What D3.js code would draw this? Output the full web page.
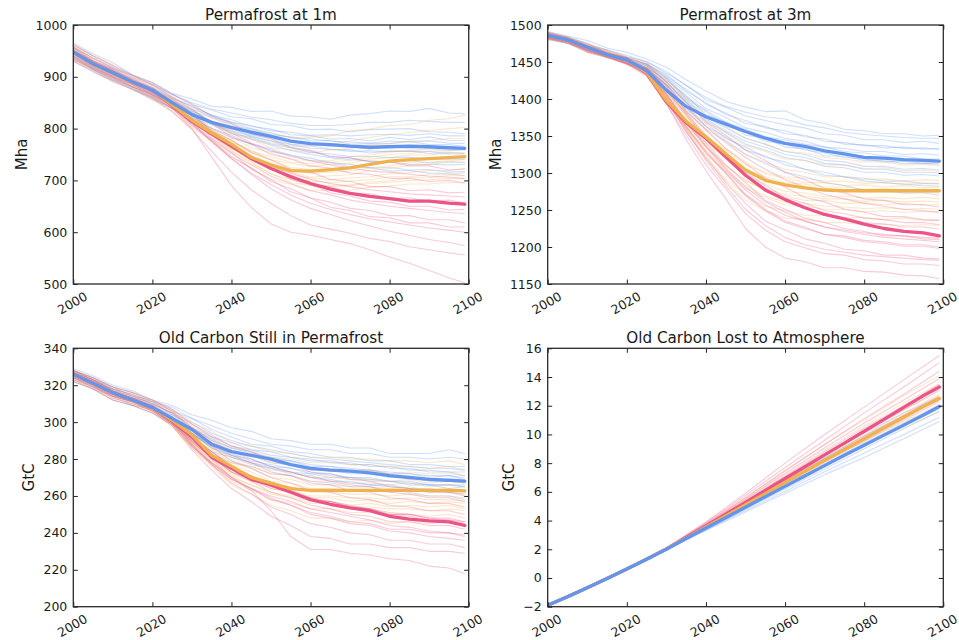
<!DOCTYPE html>
<html>
<head>
<meta charset="utf-8">
<script src="https://cdn.jsdelivr.net/npm/d3@7"></script>
<style>
  body { margin: 0; background: #fff; }
  svg { display: block; font-family: "DejaVu Sans", sans-serif; }
</style>
</head>
<body>
<svg id="chart" width="959" height="640"></svg>
<script>
// ---- time axes ----
const years5 = [2000,2005,2010,2015,2020,2025,2030,2035,2040,2045,2050,2055,2060,2065,2070,2075,2080,2085,2090,2095,2099];
const years10 = [2000,2010,2020,2030,2040,2050,2060,2070,2080,2090,2099];
const xTicks = [2000,2020,2040,2060,2080,2100];

// ---- tick labels ----
const yTicks1m = [500,600,700,800,900,1000];
const yTicks3m = [1150,1200,1250,1300,1350,1400,1450,1500];
const yTicksStill = [200,220,240,260,280,300,320,340];
const yTicksLost = [-2,0,2,4,6,8,10,12,14,16];

// ---- Permafrost at 1m (Mha) ----
const pf1Blue   = [948,925,908,890,874,850,827,812,802,793,785,776,771,769,766,764,765,766,765,763,762];
const pf1Orange = [948,925,908,890,874,846,816,792,770,745,730,719,718,721,724,731,737,740,742,744,746];
const pf1Pink   = [948,925,908,890,874,845,814,790,766,742,723,707,694,683,675,669,665,660,660,656,654];
const pf1BlueRuns = [
  [966,944,927,904,889,868,857,843,841,833,834,824,823,818,826,829,834,833,839,830,829],
  [957,936,916,903,884,866,846,836,823,819,808,806,798,799,794,798,799,800,794,793,790],
  [951,928,913,893,879,858,844,826,817,804,799,788,786,780,781,776,783,779,784,777,777],
  [944,923,904,889,869,853,833,822,806,799,788,784,776,777,770,771,771,775,769,769,766],
  [940,917,901,880,867,846,831,813,803,790,785,774,771,765,765,760,765,761,761,758,759],
  [949,924,909,889,873,850,834,813,801,788,781,770,767,760,759,753,757,756,756,751,751],
  [934,913,893,879,858,841,820,807,790,783,770,763,754,751,746,746,744,745,741,741,741],
  [953,929,913,891,876,853,836,814,801,784,776,763,756,746,743,736,736,731,731,730,731],
  [929,911,890,876,856,839,816,801,782,771,756,749,738,735,726,725,718,719,714,713,709],
  [938,914,897,876,861,838,821,800,787,770,761,748,743,734,731,724,725,720,721,716,717],
  [962,940,921,902,886,866,850,838,830,822,817,810,806,806,808,812,812,816,814,812,812],
  [946,926,906,890,872,855,838,824,812,806,796,793,787,788,786,788,789,787,790,786,786],
  [955,932,915,896,880,860,842,826,812,800,792,782,780,776,774,772,776,774,776,772,771],
  [936,915,897,881,864,846,826,810,796,786,776,769,762,760,756,757,755,757,752,754,752],
  [943,920,903,884,868,848,829,810,794,780,768,758,750,744,740,738,736,738,734,736,735]
];
const pf1OrangeRuns = [
  [961,939,921,901,886,861,842,820,809,796,791,783,783,786,796,799,806,808,816,819,826],
  [949,929,909,893,874,856,830,812,790,779,763,759,753,759,761,769,771,776,777,781,781],
  [946,924,906,887,871,849,827,800,784,763,754,740,739,738,746,749,756,757,761,761,765],
  [939,919,899,884,865,846,818,797,773,758,740,733,727,731,733,741,744,749,749,753,754],
  [956,931,913,893,877,853,829,799,777,753,739,725,721,719,725,729,737,739,743,743,746],
  [934,915,895,879,859,839,810,788,760,744,724,716,706,709,711,719,723,729,731,735,735],
  [949,925,909,889,873,849,823,792,770,743,728,710,705,701,705,707,713,715,719,719,723],
  [941,921,901,885,865,843,813,788,756,736,712,702,690,691,691,697,699,705,705,709,709],
  [931,913,892,876,855,833,802,776,744,724,702,692,680,681,681,687,689,693,693,696,695],
  [953,929,911,891,875,849,824,790,766,738,722,704,699,695,699,701,707,707,711,711,715],
  [958,936,918,898,882,858,836,812,796,780,772,766,766,770,776,783,788,793,796,800,802],
  [944,922,904,886,868,846,820,794,776,756,746,735,733,735,739,745,750,752,756,757,760],
  [937,917,898,880,862,840,812,786,764,744,730,720,714,716,718,724,728,734,735,738,740],
  [950,928,909,890,872,846,818,786,758,732,714,696,690,688,690,694,696,700,701,704,703]
];
const pf1PinkRuns = [
  [963,941,923,903,889,867,848,824,810,790,780,764,758,746,744,736,736,728,728,720,722],
  [951,931,911,896,877,857,830,810,784,770,750,742,728,724,714,712,704,704,698,700,695],
  [946,924,907,887,873,849,826,796,778,754,740,722,716,702,698,688,688,680,682,676,677],
  [939,919,899,885,865,843,813,790,762,744,722,710,694,688,676,674,666,666,660,662,657],
  [956,931,915,895,879,853,828,794,770,742,724,702,692,676,670,660,658,650,650,643,644],
  [934,915,895,881,861,839,806,778,746,724,698,684,666,658,646,642,632,632,624,624,618],
  [949,927,911,891,876,849,820,782,754,722,702,678,666,648,642,630,628,618,618,610,610],
  [941,921,901,887,867,843,808,776,742,712,684,662,646,634,622,612,602,594,586,580,574],
  [931,909,893,875,859,833,798,756,716,682,656,632,614,606,598,588,582,572,566,560,556],
  [951,927,911,892,877,840,800,745,690,648,616,600,594,586,578,566,552,540,526,512,502],
  [958,936,918,899,884,861,838,810,792,772,758,746,738,730,724,718,716,712,708,706,704],
  [944,924,904,889,869,846,818,790,766,746,728,714,702,694,688,682,678,674,672,670,668],
  [937,917,899,882,864,840,810,780,752,730,708,694,680,672,662,656,650,646,642,638,636],
  [950,929,910,891,875,846,812,774,742,714,692,672,656,644,634,626,620,614,608,604,600]
];

// ---- Permafrost at 3m (Mha) ----
const pf3Blue   = [1486,1480,1470,1460,1453,1438,1412,1390,1376,1366,1356,1347,1340,1336,1330,1326,1321,1320,1318,1317,1316];
const pf3Orange = [1486,1480,1470,1460,1453,1436,1398,1370,1349,1326,1304,1290,1284,1280,1277,1276,1276,1276,1276,1276,1276];
const pf3Pink   = [1486,1480,1470,1460,1453,1435,1396,1368,1347,1322,1297,1277,1264,1253,1244,1238,1231,1225,1221,1219,1215];
const pf3BlueRuns = [
  [1491,1485,1479,1469,1463,1454,1443,1426,1411,1397,1389,1383,1384,1372,1367,1359,1357,1353,1353,1350,1351],
  [1488,1483,1473,1467,1457,1451,1435,1419,1399,1389,1377,1371,1365,1361,1353,1351,1345,1345,1341,1343,1340],
  [1486,1479,1471,1461,1456,1447,1433,1411,1395,1379,1371,1361,1357,1349,1346,1339,1338,1334,1335,1332,1333],
  [1484,1479,1467,1461,1452,1447,1429,1409,1387,1375,1361,1355,1347,1343,1335,1333,1329,1329,1325,1326,1324],
  [1482,1475,1467,1456,1451,1442,1427,1401,1383,1365,1355,1343,1339,1331,1327,1321,1319,1315,1316,1313,1314],
  [1487,1482,1469,1461,1451,1445,1423,1399,1375,1361,1347,1339,1329,1325,1317,1315,1309,1309,1305,1306,1304],
  [1480,1475,1464,1457,1448,1441,1419,1395,1371,1355,1339,1331,1321,1317,1309,1307,1301,1301,1297,1298,1296],
  [1485,1478,1469,1457,1451,1440,1419,1389,1367,1347,1335,1321,1315,1305,1301,1295,1293,1289,1289,1286,1286],
  [1483,1478,1465,1457,1447,1439,1413,1385,1359,1343,1325,1313,1301,1295,1287,1283,1277,1277,1273,1273,1270],
  [1489,1482,1473,1461,1455,1445,1429,1403,1385,1369,1359,1349,1345,1339,1335,1329,1327,1323,1323,1319,1319],
  [1490,1484,1475,1466,1459,1450,1437,1418,1402,1390,1382,1376,1373,1365,1361,1355,1352,1350,1348,1347,1347],
  [1487,1481,1472,1463,1455,1448,1431,1413,1393,1381,1367,1363,1353,1351,1343,1341,1337,1337,1333,1334,1332],
  [1484,1478,1469,1459,1452,1443,1425,1405,1379,1369,1351,1347,1335,1333,1323,1323,1317,1317,1313,1313,1312],
  [1481,1476,1466,1457,1449,1441,1421,1397,1373,1357,1343,1335,1325,1321,1313,1311,1305,1305,1301,1301,1300],
  [1486,1480,1470,1460,1452,1443,1415,1387,1363,1349,1331,1323,1311,1305,1297,1295,1289,1287,1285,1283,1282]
];
const pf3OrangeRuns = [
  [1488,1483,1473,1466,1457,1449,1427,1401,1377,1363,1347,1339,1329,1327,1321,1319,1315,1315,1311,1312,1310],
  [1485,1480,1469,1462,1453,1445,1419,1391,1363,1345,1325,1315,1305,1301,1295,1295,1291,1292,1289,1291,1290],
  [1483,1476,1468,1457,1452,1439,1417,1383,1357,1333,1315,1299,1293,1287,1287,1283,1284,1281,1283,1280,1281],
  [1487,1482,1469,1461,1451,1442,1413,1381,1349,1327,1305,1293,1283,1281,1277,1277,1274,1275,1273,1274,1273],
  [1482,1477,1465,1457,1448,1438,1407,1373,1341,1319,1297,1285,1275,1273,1268,1269,1266,1267,1265,1267,1265],
  [1486,1479,1470,1458,1452,1437,1407,1367,1337,1309,1291,1275,1269,1263,1263,1259,1260,1257,1259,1257,1257],
  [1484,1479,1467,1459,1449,1437,1401,1363,1327,1301,1279,1267,1257,1255,1251,1251,1248,1249,1247,1248,1247],
  [1490,1483,1475,1463,1456,1439,1405,1359,1323,1291,1271,1255,1249,1243,1243,1239,1240,1237,1239,1236,1236],
  [1481,1476,1463,1456,1447,1435,1399,1359,1319,1289,1263,1249,1239,1237,1233,1233,1230,1231,1229,1230,1229],
  [1486,1481,1469,1461,1451,1441,1411,1379,1347,1325,1305,1295,1287,1285,1281,1281,1278,1279,1277,1278,1277],
  [1487,1481,1472,1463,1455,1446,1423,1395,1369,1355,1337,1329,1319,1317,1311,1311,1306,1307,1303,1304,1302],
  [1484,1478,1468,1458,1451,1441,1413,1379,1349,1331,1311,1301,1295,1293,1289,1289,1286,1287,1285,1286,1285],
  [1482,1476,1466,1456,1448,1436,1405,1369,1335,1311,1289,1279,1271,1269,1265,1265,1262,1263,1261,1262,1261],
  [1488,1482,1471,1461,1453,1438,1403,1363,1331,1303,1283,1269,1261,1259,1255,1254,1252,1253,1251,1252,1251]
];
const pf3PinkRuns = [
  [1488,1483,1472,1465,1456,1447,1423,1395,1369,1351,1331,1317,1301,1291,1279,1273,1265,1263,1257,1257,1254],
  [1485,1478,1470,1459,1454,1441,1417,1383,1359,1333,1313,1293,1281,1267,1261,1251,1247,1241,1241,1237,1236],
  [1483,1478,1466,1459,1449,1439,1409,1377,1347,1323,1297,1279,1263,1253,1243,1239,1233,1231,1227,1227,1224],
  [1487,1480,1471,1459,1453,1437,1407,1369,1341,1311,1287,1263,1251,1239,1233,1225,1221,1215,1215,1211,1210],
  [1482,1477,1465,1457,1448,1435,1399,1363,1329,1301,1271,1251,1235,1227,1217,1213,1207,1205,1201,1201,1198],
  [1486,1479,1470,1458,1452,1435,1399,1355,1321,1287,1259,1235,1223,1211,1205,1197,1195,1189,1189,1185,1184],
  [1484,1479,1467,1459,1449,1433,1393,1351,1311,1279,1245,1223,1207,1199,1191,1189,1183,1181,1177,1177,1175],
  [1490,1483,1475,1463,1456,1435,1395,1345,1303,1265,1225,1200,1185,1180,1172,1172,1167,1166,1162,1161,1157],
  [1481,1476,1463,1456,1447,1431,1395,1361,1327,1299,1269,1249,1233,1225,1217,1215,1209,1207,1203,1203,1200],
  [1486,1481,1469,1461,1451,1441,1411,1381,1351,1327,1301,1283,1267,1259,1249,1245,1239,1237,1233,1233,1230],
  [1487,1481,1471,1462,1455,1442,1419,1389,1363,1341,1321,1305,1291,1281,1271,1265,1259,1255,1251,1249,1247],
  [1484,1478,1468,1459,1451,1437,1405,1371,1337,1307,1281,1261,1247,1235,1227,1221,1217,1213,1211,1209,1207],
  [1482,1477,1466,1457,1448,1432,1397,1357,1317,1283,1251,1229,1213,1203,1197,1193,1189,1187,1185,1183,1182],
  [1488,1482,1472,1461,1453,1437,1403,1367,1335,1305,1277,1257,1243,1235,1227,1223,1219,1217,1215,1213,1212]
];

// ---- Old Carbon Still in Permafrost (GtC) ----
const stillBlue   = [326,321,316,312,308,302,296,288,284,282,280,277,275,274,273.5,272.5,271,270,269,268.5,268];
const stillOrange = [326,321,316,312,308,301,293,282,276,270,267,264,263,263,263,263,263,263,263,263,262.7];
const stillPink   = [326,321,316,312,308,300.5,292,281,275,269,266,262,258,255.5,253.5,252,249,247.5,246.5,246,244];
const stillBlueRuns = [
  [329,325,320,317,312,309,304,301,297,295,291,290,288,288,286,286,283,283,283,285,283],
  [328,323,319,314,312,306,302,296,292,288,287,284,283,281,281,279,279,277,277,276,276],
  [327,322,318,313,311,304,299,292,289,285,284,281,280,278,278,276,276,274,274,273,273],
  [326,322,316,313,309,304,296,291,286,284,280,279,276,276,274,274,272,272,270,271,269],
  [325,321,315,312,308,303,295,289,284,282,278,277,274,274,272,272,270,270,268,268,267],
  [324,320,314,311,307,301,293,287,282,280,276,275,272,272,270,270,268,268,266,266,265],
  [323,318,314,309,307,299,292,284,281,277,275,272,271,268,268,266,266,264,264,262,263],
  [322,318,312,309,305,299,290,283,278,276,272,271,268,267,265,265,263,262,260,260,258],
  [326,321,317,312,309,301,294,286,282,278,276,273,272,270,270,268,268,266,266,264,265],
  [328,324,318,315,310,305,297,292,287,285,282,281,279,279,277,277,275,275,273,273,271],
  [328,324,319,316,311,308,302,298,294,291,288,287,285,285,283,283,281,281,280,281,280],
  [327,322,318,314,310,305,300,294,290,287,285,283,281,280,279,278,277,276,275,275,274],
  [325,320,316,312,308,302,297,290,286,283,281,279,277,276,275,274,273,272,271,271,270],
  [324,319,315,310,307,300,294,287,283,279,277,275,273,271,270,269,268,267,266,266,266],
  [326,321,316,311,308,302,294,286,281,278,275,273,270,269,267,266,265,264,263,262,261]
];
const stillOrangeRuns = [
  [328,324,319,316,312,307,300,295,289,287,284,283,281,281,280,280,279,279,278,279,277],
  [327,323,317,314,310,305,297,291,285,282,278,277,275,275,273,274,272,273,272,272,271],
  [326,322,316,313,309,303,294,288,281,278,274,273,270,270,269,269,268,269,267,268,267],
  [325,321,315,312,308,302,292,285,278,275,270,269,266,266,265,265,264,265,263,264,263],
  [324,320,314,311,307,301,290,282,275,271,267,265,262,262,261,261,260,261,260,260,259],
  [323,319,313,310,306,300,288,280,272,268,264,262,259,259,257,258,256,257,256,257,256],
  [327,323,317,313,308,301,289,279,270,266,261,259,256,256,254,254,253,253,252,253,252],
  [322,318,312,309,305,298,286,277,268,263,258,256,253,253,251,251,250,250,249,250,248],
  [326,322,316,313,309,302,291,284,277,273,268,267,264,264,263,263,262,263,262,262,261],
  [325,321,315,312,307,299,286,276,266,261,255,252,248,248,246,247,245,246,245,246,245],
  [328,323,318,315,311,306,298,292,287,284,281,280,278,278,277,277,276,276,275,276,274],
  [326,321,316,312,308,302,293,286,279,276,272,271,268,268,267,267,266,267,265,266,265],
  [324,319,314,311,307,300,289,281,273,269,265,263,260,260,259,259,258,259,258,258,257],
  [325,320,315,311,306,298,287,278,271,266,262,260,257,257,255,256,254,255,254,255,253]
];
const stillPinkRuns = [
  [328,324,319,316,312,307,299,293,287,284,279,277,273,272,269,268,265,264,262,262,260],
  [327,323,317,314,310,305,296,289,282,278,273,271,267,266,263,262,259,258,256,256,254],
  [326,322,316,313,309,303,294,287,279,275,270,267,263,262,259,258,255,254,252,252,250],
  [325,321,315,312,308,302,292,284,276,271,265,262,258,257,254,253,250,250,248,248,246],
  [324,320,314,311,307,301,290,281,273,268,262,259,255,253,250,249,246,246,244,244,242],
  [323,319,313,310,306,299,287,278,269,264,258,255,251,249,246,245,242,242,240,240,238],
  [327,323,317,313,308,301,288,277,267,261,254,250,245,243,240,239,236,236,234,234,232],
  [322,318,312,309,305,298,285,274,264,257,249,244,238,237,234,234,232,232,230,230,229],
  [326,322,316,313,309,302,290,280,270,263,252,238,231,231,229,228,226,225,222,221,218],
  [325,321,315,312,307,300,289,281,273,269,264,262,258,257,254,253,250,249,247,247,245],
  [328,323,318,315,311,306,297,290,284,280,276,273,270,268,266,265,262,261,259,259,257],
  [326,321,316,312,308,302,292,284,276,271,266,263,259,257,255,253,251,250,248,247,246],
  [324,319,314,311,307,300,288,278,270,264,259,255,250,248,245,244,241,240,238,237,236],
  [325,320,315,311,306,299,287,277,269,264,260,257,253,251,249,247,244,243,241,240,239]
];

// ---- Old Carbon Lost to Atmosphere (GtC) ----
const lostBlue   = [-1.9,-1.3,-0.68,-0.03,0.62,1.3,2.0,2.75,3.48,4.2,4.93,5.66,6.38,7.1,7.83,8.55,9.25,9.95,10.65,11.35,11.95];
const lostOrange = [-1.9,-1.3,-0.68,-0.03,0.62,1.3,2.02,2.78,3.55,4.32,5.1,5.88,6.65,7.42,8.2,8.95,9.7,10.45,11.2,11.95,12.5];
const lostPink   = [-1.9,-1.3,-0.68,-0.03,0.62,1.3,2.03,2.82,3.62,4.44,5.27,6.1,6.93,7.75,8.58,9.4,10.22,11.05,11.88,12.7,13.3];
const lostBlueRuns = [
  [-1.9,-0.68,0.63,2.02,3.6,5.3,7.0,8.6,10.1,11.5,12.6],
  [-1.9,-0.68,0.62,2.01,3.55,5.2,6.8,8.4,9.9,11.3,12.4],
  [-1.9,-0.68,0.62,2.0,3.5,5.0,6.5,8.0,9.4,10.8,12.0],
  [-1.9,-0.69,0.61,1.99,3.45,4.9,6.35,7.8,9.2,10.6,11.8],
  [-1.9,-0.69,0.6,1.98,3.4,4.8,6.2,7.6,9.0,10.4,11.6],
  [-1.9,-0.7,0.6,1.97,3.35,4.7,6.05,7.4,8.7,10.0,11.2],
  [-1.9,-0.7,0.59,1.96,3.3,4.6,5.9,7.2,8.4,9.7,10.9],
  [-1.9,-0.68,0.62,2.0,3.5,4.95,6.4,7.9,9.3,10.7,11.9]
];
const lostOrangeRuns = [
  [-1.9,-0.67,0.64,2.06,3.75,5.6,7.5,9.3,11.0,12.7,14.1],
  [-1.9,-0.67,0.63,2.05,3.7,5.45,7.2,8.9,10.6,12.2,13.5],
  [-1.9,-0.68,0.63,2.04,3.65,5.3,7.0,8.6,10.2,11.7,13.0],
  [-1.9,-0.68,0.62,2.03,3.6,5.2,6.8,8.3,9.8,11.3,12.6],
  [-1.9,-0.68,0.62,2.02,3.55,5.1,6.6,8.1,9.5,10.9,12.1],
  [-1.9,-0.69,0.61,2.01,3.5,5.0,6.4,7.8,9.2,10.5,11.6],
  [-1.9,-0.68,0.62,2.03,3.62,5.25,6.9,8.5,10.0,11.5,12.8]
];
const lostPinkRuns = [
  [-1.9,-0.66,0.66,2.1,3.9,5.9,8.0,10.0,11.9,13.8,15.5],
  [-1.9,-0.66,0.65,2.09,3.85,5.75,7.7,9.6,11.5,13.3,15.0],
  [-1.9,-0.67,0.64,2.07,3.8,5.6,7.45,9.3,11.1,12.8,14.4],
  [-1.9,-0.67,0.64,2.06,3.75,5.5,7.3,9.05,10.8,12.4,13.9],
  [-1.9,-0.67,0.63,2.05,3.7,5.4,7.1,8.8,10.45,12.0,13.5],
  [-1.9,-0.68,0.63,2.04,3.65,5.3,6.95,8.55,10.15,11.7,13.1],
  [-1.9,-0.68,0.62,2.03,3.6,5.2,6.8,8.35,9.9,11.35,12.7],
  [-1.9,-0.68,0.62,2.02,3.55,5.1,6.6,8.1,9.55,11.0,12.3]
];

// ---- styling ----
const COLORS = { blue: "#6495ed", orange: "#efb24f", pink: "#ea5486" };
const TEXT = "#1a1a1a";

const panels = [
  { title: "Permafrost at 1m", ylabel: "Mha", box: [73.3, 468.7, 25, 284], labelX: 21.7,
    yDomain: [500, 1000], yTicks: yTicks1m, runYears: years5,
    runs: { blue: pf1BlueRuns, orange: pf1OrangeRuns, pink: pf1PinkRuns },
    means: { blue: pf1Blue, orange: pf1Orange, pink: pf1Pink } },
  { title: "Permafrost at 3m", ylabel: "Mha", box: [547.7, 943.3, 25, 284], labelX: 495.5,
    yDomain: [1150, 1500], yTicks: yTicks3m, runYears: years5,
    runs: { blue: pf3BlueRuns, orange: pf3OrangeRuns, pink: pf3PinkRuns },
    means: { blue: pf3Blue, orange: pf3Orange, pink: pf3Pink } },
  { title: "Old Carbon Still in Permafrost", ylabel: "GtC", box: [73.3, 468.7, 348.3, 606.7], labelX: 29,
    yDomain: [200, 340], yTicks: yTicksStill, runYears: years5,
    runs: { blue: stillBlueRuns, orange: stillOrangeRuns, pink: stillPinkRuns },
    means: { blue: stillBlue, orange: stillOrange, pink: stillPink } },
  { title: "Old Carbon Lost to Atmosphere", ylabel: "GtC", box: [547.7, 943.3, 348.3, 606.7], labelX: 509,
    yDomain: [-2, 16], yTicks: yTicksLost, runYears: years10,
    runs: { blue: lostBlueRuns, orange: lostOrangeRuns, pink: lostPinkRuns },
    means: { blue: lostBlue, orange: lostOrange, pink: lostPink } }
];

const svg = d3.select("#chart");
const fmt = d3.format("d");

panels.forEach((p, idx) => {
  const [x0, x1, y0, y1] = p.box;
  const x = d3.scaleLinear().domain([2000, 2100]).range([x0, x1]);
  const y = d3.scaleLinear().domain(p.yDomain).range([y1, y0]);
  const g = svg.append("g");

  const clipId = "clip" + idx;
  svg.append("clipPath").attr("id", clipId)
    .append("rect").attr("x", x0).attr("y", y0).attr("width", x1 - x0).attr("height", y1 - y0);

  const plot = g.append("g").attr("clip-path", `url(#${clipId})`);

  // ensemble members
  ["blue", "orange", "pink"].forEach(key => {
    const line = d3.line().x((d, i) => x(p.runYears[i])).y(d => y(d));
    plot.append("g").selectAll("path").data(p.runs[key]).join("path")
      .attr("d", line)
      .attr("fill", "none")
      .attr("stroke", COLORS[key])
      .attr("stroke-opacity", 0.3)
      .attr("stroke-width", 1.1)
      .attr("stroke-linejoin", "round");
  });

  // ensemble means
  const meanLine = d3.line().x((d, i) => x(years5[i])).y(d => y(d));
  ["pink", "orange", "blue"].forEach(key => {
    plot.append("path").datum(p.means[key])
      .attr("d", meanLine)
      .attr("fill", "none")
      .attr("stroke", COLORS[key])
      .attr("stroke-width", 3.3)
      .attr("stroke-linejoin", "round")
      .attr("stroke-linecap", "round");
  });

  // axes: ticks point inward on all four sides
  const tickLen = 4.5;
  const axB = g.append("g").attr("transform", `translate(0,${y1})`)
    .call(d3.axisBottom(x).tickValues(xTicks).tickSize(-tickLen).tickFormat(""));
  const axT = g.append("g").attr("transform", `translate(0,${y0})`)
    .call(d3.axisTop(x).tickValues(xTicks).tickSize(-tickLen).tickFormat(""));
  const axL = g.append("g").attr("transform", `translate(${x0},0)`)
    .call(d3.axisLeft(y).tickValues(p.yTicks).tickSize(-tickLen).tickFormat(""));
  const axR = g.append("g").attr("transform", `translate(${x1},0)`)
    .call(d3.axisRight(y).tickValues(p.yTicks).tickSize(-tickLen).tickFormat(""));
  [axB, axT, axL, axR].forEach(a => {
    a.select(".domain").remove();
    a.selectAll(".tick line").attr("stroke", "#222").attr("stroke-width", 1);
  });

  // frame
  g.append("rect").attr("x", x0).attr("y", y0).attr("width", x1 - x0).attr("height", y1 - y0)
    .attr("fill", "none").attr("stroke", "#2a2a2a").attr("stroke-width", 1.3);

  // y tick labels
  g.append("g").selectAll("text").data(p.yTicks).join("text")
    .attr("x", x0 - 6).attr("y", d => y(d)).attr("dy", "0.36em")
    .attr("text-anchor", "end").attr("font-size", 12.5).attr("fill", TEXT)
    .text(d => d < 0 ? "\u2212" + fmt(-d) : fmt(d));

  // x tick labels, rotated
  g.append("g").selectAll("text").data(xTicks).join("text")
    .attr("transform", d => `translate(${x(d) - 1},${y1 + 19}) rotate(-30)`)
    .attr("text-anchor", "middle").attr("dy", "0.36em")
    .attr("font-size", 12.5).attr("fill", TEXT)
    .text(d => fmt(d));

  // title
  g.append("text").attr("x", (x0 + x1) / 2).attr("y", y0 - 5.5)
    .attr("text-anchor", "middle").attr("font-size", 15.2).attr("fill", TEXT)
    .text(p.title);

  // y label
  g.append("text")
    .attr("transform", `translate(${p.labelX},${(y0 + y1) / 2}) rotate(-90)`)
    .attr("text-anchor", "middle").attr("dy", "0.36em")
    .attr("font-size", 15).attr("fill", TEXT)
    .text(p.ylabel);
});
</script>
</body>
</html>
